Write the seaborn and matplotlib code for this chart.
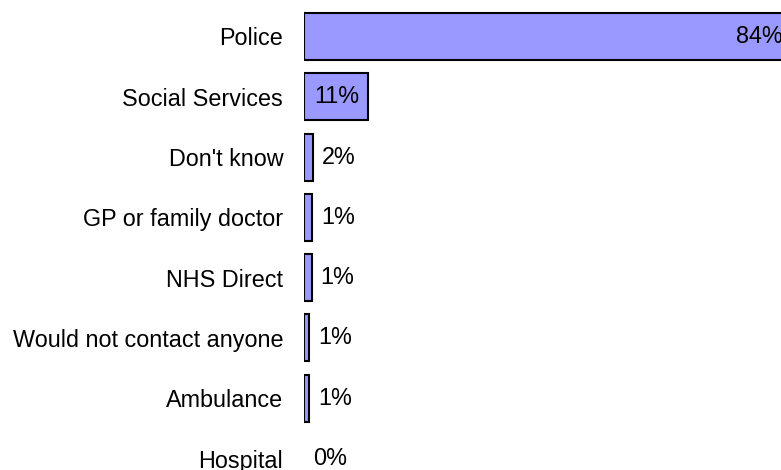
import matplotlib
matplotlib.use("Agg")
import matplotlib.pyplot as plt
import seaborn as sns
import pandas as pd

# Who people would contact (share of respondents, %)
categories = [
    "Police",
    "Social Services",
    "Don't know",
    "GP or family doctor",
    "NHS Direct",
    "Would not contact anyone",
    "Ambulance",
    "Hospital",
]
shares = [84, 11, 1.6, 1.4, 1.3, 0.9, 0.9, 0.0]

df = pd.DataFrame({"contact": categories, "share": shares})

sns.set_style("white")
plt.rcParams["font.family"] = ["Liberation Sans", "DejaVu Sans"]

FS = 16.8
W, H = 781, 470
fig = plt.figure(figsize=(W / 100, H / 100), dpi=100)
ax = fig.add_axes([304 / W, 0, (W - 304) / W, 1])

sns.barplot(
    data=df, y="contact", x="share", orient="h", ax=ax,
    color="#9999FF", saturation=1, edgecolor="black", linewidth=1.5,
    width=0.78,
)
# an empty share gets no outline
for patch, v in zip(ax.patches, shares):
    if v == 0:
        patch.set_linewidth(0)

ax.set_xlim(0, 82.2)
ax.set_ylim(7.19, -0.605)
for s in ax.spines.values():
    s.set_visible(False)
ax.set_xticks([])
ax.set_xlabel("")
ax.set_ylabel("")
ax.tick_params(axis="y", length=0, pad=15, labelsize=FS, colors="black")

# value labels: inside the end of long bars, just past the end of short ones
for i, v in enumerate(shares):
    label = f"{v:.0f}%"
    if v >= 5:
        ax.annotate(label, xy=(v, i), xytext=(-6, 0), textcoords="offset points",
                    ha="right", va="center", fontsize=FS, color="black",
                    annotation_clip=False)
    else:
        ax.annotate(label, xy=(v, i), xytext=(6.5, 0), textcoords="offset points",
                    ha="left", va="center", fontsize=FS, color="black",
                    annotation_clip=False)

fig.savefig("out.png", dpi=100)
